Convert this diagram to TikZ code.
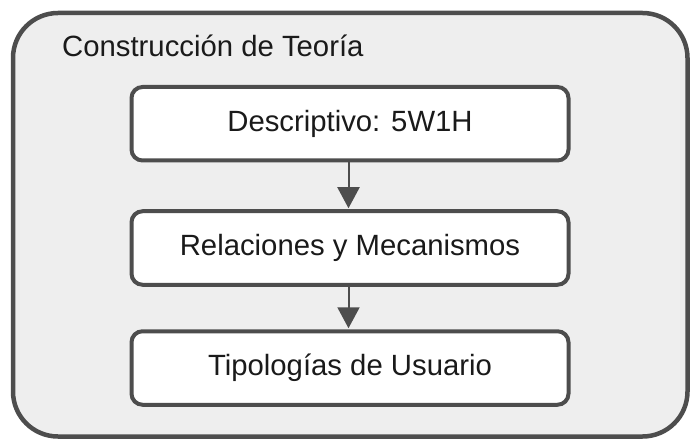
\documentclass[tikz,border=0pt]{standalone}
\usepackage{fontspec}
\setmainfont{Liberation Sans}
\usetikzlibrary{arrows.meta}
\definecolor{strokec}{HTML}{4D4D4D}
\definecolor{fillc}{HTML}{EEEEEE}
\definecolor{textc}{HTML}{1A1A1A}
\tikzset{
  outerbox/.style={draw=strokec, fill=fillc, line width=4.5pt, rounded corners=45pt},
  stepbox/.style={draw=strokec, fill=white, line width=4pt, rounded corners=11pt, minimum width=437pt, minimum height=73.5pt, inner sep=0pt, font=\fontsize{29.3pt}{34pt}\selectfont, text=textc},
  flow/.style={draw=strokec, line width=2pt, -{Triangle[length=21pt, width=22pt]}, shorten >=1pt},
}
\begin{document}
\begin{tikzpicture}[x=1pt, y=-1pt]
\useasboundingbox (0,0) rectangle (698,446);
\draw[outerbox] (13,13) rectangle (687.5,436.5);
\node[anchor=base west, font=\fontsize{29.3pt}{34pt}\selectfont, text=textc, inner sep=0pt] (title) at (62,57) {Construcción de Teoría};
\node[stepbox] (a) at (350,123.75) {Descriptivo: 5W1H};
\node[stepbox] (b) at (350,248) {Relaciones y Mecanismos};
\node[stepbox] (c) at (350,368) {Tipologías de Usuario};
\draw[flow] (a.south) ++(-1.5,0) coordinate (a1) -- (a1 |- b.north);
\draw[flow] (b.south) ++(-1.5,0) coordinate (b1) -- (b1 |- c.north);
\end{tikzpicture}
\end{document}
